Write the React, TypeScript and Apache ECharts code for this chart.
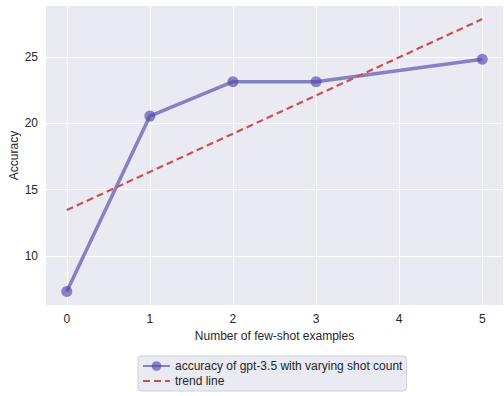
import React, { useEffect, useRef } from "react";
import * as echarts from "echarts";

const shots = [0, 1, 2, 3, 5];
const accuracy = [7.3, 20.55, 23.15, 23.15, 24.85];
const trendX = [0, 5];
const trendY = [13.45, 27.88];
const xTicks = [0, 1, 2, 3, 4, 5];
const yTicks = [10, 15, 20, 25];

export default function App() {
  const ref = useRef<HTMLDivElement>(null);
  useEffect(() => {
    if (!ref.current) return;
    const chart = echarts.init(ref.current, null, { renderer: "svg" });
    const font = "'Liberation Sans', Arial, sans-serif";
    const purple = "rgba(80,70,170,0.65)";
    chart.setOption({
      animation: false,
      textStyle: { fontFamily: font },
      grid: {
        left: 46,
        right: 1,
        top: 6,
        bottom: 91,
        outerBoundsMode: "none",
        containLabel: false,
        show: true,
        backgroundColor: "#EAEAF2",
        borderWidth: 0,
      },
      xAxis: {
        type: "value",
        min: -0.25,
        max: 5.25,
        name: "Number of few-shot examples",
        nameLocation: "middle",
        nameGap: 21,
        nameMoveOverlap: false,
        nameTextStyle: { fontSize: 12, color: "#262626", fontFamily: font, verticalAlign: "top", padding: [4, 0, 0, 0] },
        axisLine: { show: false },
        axisTick: { show: false, customValues: xTicks },
        axisLabel: {
          customValues: xTicks,
          margin: 8,
          fontSize: 12,
          color: "#262626",
          fontFamily: font,
        },
        splitLine: { show: true, lineStyle: { color: "#ffffff", width: 1 } },
      },
      yAxis: {
        type: "value",
        min: 6.28,
        max: 28.87,
        name: "Accuracy",
        nameLocation: "middle",
        nameGap: 26,
        nameMoveOverlap: false,
        nameRotate: 90,
        nameTextStyle: { fontSize: 12, color: "#262626", fontFamily: font },
        axisLine: { show: false },
        axisTick: { show: false, customValues: yTicks },
        axisLabel: {
          customValues: yTicks,
          margin: 8,
          fontSize: 12,
          color: "#262626",
          fontFamily: font,
        },
        splitLine: { show: true, lineStyle: { color: "#ffffff", width: 1 } },
      },
      legend: {
        orient: "vertical",
        left: 138,
        top: 356,
        itemWidth: 27,
        itemHeight: 12,
        itemGap: 3,
        padding: [4, 4, 4, 4],
        backgroundColor: "#EAEAF2",
        borderColor: "#D0D0D8",
        borderWidth: 1,
        borderRadius: 3,
        textStyle: { fontSize: 12, color: "#262626", fontFamily: font },
        data: [
          { name: "accuracy of gpt-3.5 with varying shot count" },
          { name: "trend line", itemStyle: { opacity: 0 } },
        ],
      },
      series: [
        {
          name: "accuracy of gpt-3.5 with varying shot count",
          type: "line",
          data: shots.map((x, i) => [x, accuracy[i]]),
          symbol: "circle",
          symbolSize: 11,
          lineStyle: { color: purple, width: 3.5 },
          itemStyle: { color: purple },
          z: 2,
        },
        {
          name: "trend line",
          type: "line",
          data: trendX.map((x, i) => [x, trendY[i]]),
          symbol: "none",
          lineStyle: { color: "#CD5050", width: 2.2, type: [7, 4] },
          itemStyle: { color: "#CD5050" },
          z: 3,
        },
      ],
    });
    return () => chart.dispose();
  }, []);
  return <div ref={ref} style={{ width: 504, height: 396, position: "absolute", left: 0, top: 0 }} />;
}
